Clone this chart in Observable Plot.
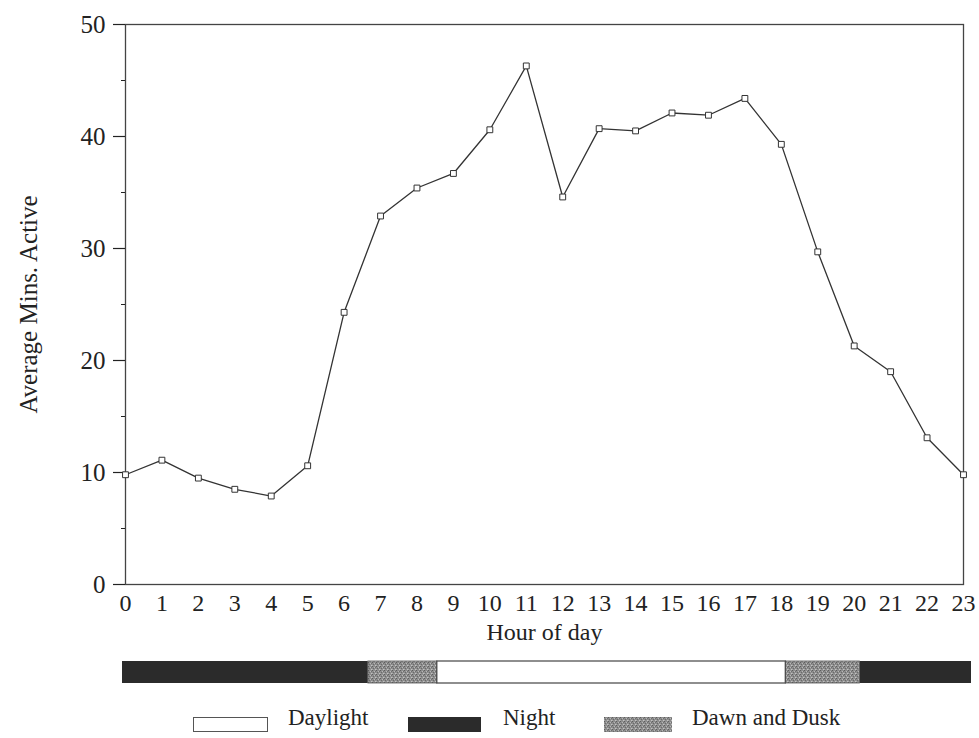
<!DOCTYPE html>
<html>
<head>
<meta charset="utf-8">
<script src="https://cdn.jsdelivr.net/npm/d3@7"></script>
<script src="https://cdn.jsdelivr.net/npm/@observablehq/plot@0.6"></script>
<style>
  html, body { margin: 0; padding: 0; background: #fff; }
  #chart { position: relative; width: 979px; height: 738px; font-family: "Liberation Serif", "DejaVu Serif", serif; color: #222; }
  #chart svg { display: block; }
  .legend { position: relative; height: 43px; font-size: 23px; }
  .legend .sw { position: absolute; top: 22px; height: 15px; box-sizing: border-box; }
  .legend .lab { position: absolute; top: 10px; line-height: 26px; }
</style>
</head>
<body>
<div id="chart"></div>
<script>
// Hourly activity
const hours = [0, 1, 2, 3, 4, 5, 6, 7, 8, 9, 10, 11, 12, 13, 14, 15, 16, 17, 18, 19, 20, 21, 22, 23];
const activeMins = [9.8, 11.1, 9.5, 8.5, 7.9, 10.6, 24.3, 32.9, 35.4, 36.7, 40.6, 46.3, 34.6, 40.7, 40.5, 42.1, 41.9, 43.4, 39.3, 29.7, 21.3, 19.0, 13.1, 9.8];
const yTicks = [0, 10, 20, 30, 40, 50];
const yMinorTicks = [5, 15, 25, 35, 45];

// Light periods across the 24-hour day (hours)
const periodKind = ["Night", "Dawn and Dusk", "Daylight", "Dawn and Dusk", "Night"];
const periodStart = [0, 6.95, 8.9, 18.75, 20.85];
const periodEnd = [6.95, 8.9, 18.75, 20.85, 24];

const legendKinds = ["Daylight", "Night", "Dawn and Dusk"];

const activity = hours.map((h, i) => ({hour: h, mins: activeMins[i]}));
const periods = periodKind.map((k, i) => ({kind: k, start: periodStart[i], end: periodEnd[i]}));

const ink = "#333";
const nightFill = "#2b2b2b";

const root = document.getElementById("chart");

const main = Plot.plot({
  width: 979,
  height: 650,
  marginLeft: 125,
  marginRight: 16,
  marginTop: 24,
  marginBottom: 66,
  style: {fontFamily: "Liberation Serif", fontSize: "23px", color: "#222", background: "white", overflow: "visible"},
  x: {domain: [0, 23]},
  y: {domain: [0, 50]},
  marks: [
    Plot.frame({stroke: "#444", strokeWidth: 1.3}),
    Plot.axisY({ticks: yTicks, tickSize: 12, tickPadding: 8, strokeWidth: 1.2,
      label: "Average Mins. Active", labelAnchor: "center", labelArrow: "none", labelOffset: 106, fontSize: 25}),
    Plot.axisY({ticks: yMinorTicks, tickSize: 4, text: null, label: null, strokeWidth: 1}),
    Plot.axisX({ticks: hours, tickSize: 0, tickPadding: 9,
      label: "Hour of day", labelAnchor: "center", labelArrow: "none", labelOffset: 55, fontSize: 24}),
    Plot.line(activity, {x: "hour", y: "mins", stroke: ink, strokeWidth: 1.3}),
    Plot.dot(activity, {x: "hour", y: "mins", symbol: "square", r: 3.3, fill: "white", stroke: ink, strokeWidth: 1})
  ]
});
root.appendChild(main);

// Day / night strip along the 24 hours
const strip = Plot.plot({
  width: 979,
  height: 45,
  marginLeft: 122,
  marginRight: 8,
  marginTop: 11,
  marginBottom: 12,
  style: {background: "white"},
  x: {domain: [0, 24], axis: null},
  marks: [
    Plot.barX(periods.filter(d => d.kind === "Night"), {x1: "start", x2: "end", fill: nightFill}),
    Plot.barX(periods.filter(d => d.kind === "Dawn and Dusk"), {x1: "start", x2: "end", fill: "url(#stipple)", stroke: "#555", strokeWidth: 0.8}),
    Plot.barX(periods.filter(d => d.kind === "Daylight"), {x1: "start", x2: "end", fill: "white", stroke: "#444", strokeWidth: 1.2})
  ]
});

// Stippled grey used for the twilight periods
function addStipple(svg, id) {
  const defs = d3.select(svg).insert("defs", ":first-child");
  const p = defs.append("pattern").attr("id", id).attr("patternUnits", "userSpaceOnUse")
    .attr("width", 4).attr("height", 4);
  p.append("rect").attr("width", 4).attr("height", 4).attr("fill", "#8d8d8d");
  [[0, 0, "#5e5e5e"], [2, 1, "#b8b8b8"], [1, 2, "#6a6a6a"], [3, 3, "#c2c2c2"], [3, 1, "#707070"], [0, 3, "#a8a8a8"]]
    .forEach(([x, y, c]) => p.append("rect").attr("x", x).attr("y", y).attr("width", 1).attr("height", 1).attr("fill", c));
}
addStipple(strip, "stipple");
root.appendChild(strip);

// Legend
const legend = document.createElement("div");
legend.className = "legend";
const swatchLeft = [193, 408, 604];
const swatchWidth = [75, 73, 68];
const labelLeft = [288, 503, 692];
legendKinds.forEach((k, i) => {
  const sw = document.createElement("div");
  sw.className = "sw";
  sw.style.left = swatchLeft[i] + "px";
  sw.style.width = swatchWidth[i] + "px";
  if (k === "Daylight") { sw.style.background = "white"; sw.style.border = "1.3px solid #555"; }
  else if (k === "Night") { sw.style.background = nightFill; }
  else {
    sw.innerHTML = `<svg width="${swatchWidth[i]}" height="15"></svg>`;
    const s = sw.querySelector("svg");
    addStipple(s, "stipple-legend");
    d3.select(s).append("rect").attr("width", swatchWidth[i]).attr("height", 15).attr("fill", "url(#stipple-legend)");
  }
  legend.appendChild(sw);
  const lab = document.createElement("div");
  lab.className = "lab";
  lab.style.left = labelLeft[i] + "px";
  lab.textContent = k;
  legend.appendChild(lab);
});
root.appendChild(legend);
</script>
</body>
</html>
